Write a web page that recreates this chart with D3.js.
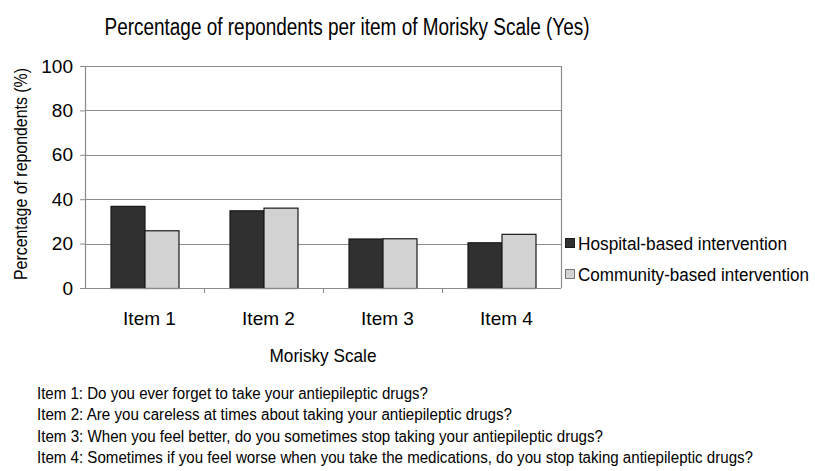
<!DOCTYPE html>
<html>
<head>
<meta charset="utf-8">
<script src="https://cdn.jsdelivr.net/npm/d3@7"></script>
<style>
  body { margin: 0; background: #fff; }
  text { font-family: "Liberation Sans", Arial, sans-serif; fill: #000; }
</style>
</head>
<body>
<div id="content"></div>
<script>
// data
const items = ["Item 1", "Item 2", "Item 3", "Item 4"]
const seriesNames = ["Hospital-based intervention", "Community-based intervention"]
const hospital = [37, 35, 22.3, 20.6]
const community = [26, 36.2, 22.4, 24.4]
const yTicks = [0, 20, 40, 60, 80, 100]
const notes = [
    "Item 1: Do you ever forget to take your antiepileptic drugs?",
    "Item 2: Are you careless at times about taking your antiepileptic drugs?",
    "Item 3: When you feel better, do you sometimes stop taking your antiepileptic drugs?",
    "Item 4: Sometimes if you feel worse when you take the medications, do you stop taking antiepileptic drugs?",
]

const colors = ["#303030", "#d2d2d2"]

const outerWidth = 815
const outerHeight = 471
const margin = {top: 66, left: 85}
const width = 561 - 85
const height = 288 - 66

const svg = d3.select("#content").append("svg")
    .attr("width", outerWidth)
    .attr("height", outerHeight)

svg.append("rect")
    .attr("width", outerWidth)
    .attr("height", outerHeight)
    .attr("fill", "#fff")

const wrapper = svg.append("g")
    .attr("transform", `translate(${margin.left}, ${margin.top})`)

// scales
const xScale = d3.scaleBand()
    .domain(items)
    .range([0, width])

const groupWidth = 68
const xInner = d3.scaleBand()
    .domain([0, 1])
    .range([0, groupWidth])

const yScale = d3.scaleLinear()
    .domain([0, 100])
    .range([height, 0])

// grid lines
wrapper.append("g")
    .selectAll("line")
    .data(yTicks.slice(1))
    .join("line")
    .attr("x1", 0)
    .attr("x2", width)
    .attr("y1", d => Math.round(yScale(d)) + 0.5)
    .attr("y2", d => Math.round(yScale(d)) + 0.5)
    .style("stroke", "#8a8a8a")
    .style("stroke-width", 1.2)

// right border of plot area
wrapper.append("line")
    .attr("x1", width + 0.5).attr("x2", width + 0.5)
    .attr("y1", 0).attr("y2", height)
    .style("stroke", "#8a8a8a")
    .style("stroke-width", 1.2)

// bars
const rows = items.map((item, i) => ({item, values: [hospital[i], community[i]]}))

const groups = wrapper.selectAll(".group")
    .data(rows)
    .join("g")
    .attr("class", "group")
    .attr("transform", d => `translate(${xScale(d.item) + (xScale.bandwidth() - groupWidth) / 2}, 0)`)

groups.selectAll("rect")
    .data(d => d.values.map((v, k) => ({k, v})))
    .join("rect")
    .attr("x", d => xInner(d.k) + 0.5)
    .attr("y", d => yScale(d.v) + 0.5)
    .attr("width", xInner.bandwidth())
    .attr("height", d => height - yScale(d.v))
    .attr("fill", d => colors[d.k])
    .style("stroke", "#1a1a1a")
    .style("stroke-width", 1.2)

// y axis
const yAxis = d3.axisLeft(yScale)
    .tickValues(yTicks)
    .tickSize(5)
    .tickPadding(7)
const yG = wrapper.append("g")
    .call(yAxis)
yG.select(".domain").style("stroke", "#8a8a8a").style("stroke-width", 1.2)
yG.selectAll(".tick line").style("stroke", "#8a8a8a")
yG.selectAll("text")
    .style("font-size", "19px")
    .style("font-family", "Liberation Sans, Arial, sans-serif")
    .attr("fill", "#000")

// x axis, ticks at the band edges
const xG = wrapper.append("g")
    .attr("transform", `translate(0, ${height})`)
xG.append("line")
    .attr("x1", 0).attr("x2", width)
    .attr("y1", 0.5).attr("y2", 0.5)
    .style("stroke", "#8a8a8a")
    .style("stroke-width", 1.2)
xG.selectAll(".edge")
    .data(items.slice(1))
    .join("line")
    .attr("class", "edge")
    .attr("x1", d => xScale(d) + 0.5)
    .attr("x2", d => xScale(d) + 0.5)
    .attr("y1", 0)
    .attr("y2", 5)
    .style("stroke", "#8a8a8a")
xG.selectAll(".label")
    .data(items)
    .join("text")
    .attr("class", "label")
    .attr("x", d => xScale(d) + xScale.bandwidth() / 2 + 5)
    .attr("y", 37)
    .attr("text-anchor", "middle")
    .style("font-size", "19px")
    .text(d => d)

// axis titles
svg.append("text")
    .attr("x", margin.left + width / 2)
    .attr("y", 362)
    .attr("text-anchor", "middle")
    .attr("textLength", 107)
    .attr("lengthAdjust", "spacingAndGlyphs")
    .style("font-size", "19px")
    .text("Morisky Scale")

svg.append("text")
    .attr("transform", `translate(27, ${margin.top + height / 2 - 3}) rotate(-90)`)
    .attr("text-anchor", "middle")
    .attr("textLength", 212)
    .attr("lengthAdjust", "spacingAndGlyphs")
    .style("font-size", "18px")
    .text("Percentage of repondents (%)")

// chart title
svg.append("text")
    .attr("x", 347)
    .attr("y", 35)
    .attr("text-anchor", "middle")
    .attr("textLength", 485)
    .attr("lengthAdjust", "spacingAndGlyphs")
    .style("font-size", "23px")
    .text("Percentage of repondents per item of Morisky Scale (Yes)")

// legend
const legendLengths = [209, 231]
const legend = svg.append("g")
    .attr("transform", "translate(565, 238)")
const legendItems = legend.selectAll("g")
    .data(seriesNames)
    .join("g")
    .attr("transform", (d, i) => `translate(0, ${i * 31})`)
legendItems.append("rect")
    .attr("x", 0.5)
    .attr("y", 0.5)
    .attr("width", 9)
    .attr("height", 9)
    .attr("fill", (d, i) => colors[i])
    .style("stroke", (d, i) => i ? "#777" : "#1a1a1a")
legendItems.append("text")
    .attr("x", 13)
    .attr("y", 12)
    .attr("textLength", (d, i) => legendLengths[i])
    .attr("lengthAdjust", "spacingAndGlyphs")
    .style("font-size", "17.5px")
    .text(d => d)

// notes under the chart
const noteLengths = [391, 475, 566, 716]
svg.append("g")
    .selectAll("text")
    .data(notes)
    .join("text")
    .attr("x", 37)
    .attr("y", (d, i) => 399 + i * 21.3)
    .attr("textLength", (d, i) => noteLengths[i])
    .attr("lengthAdjust", "spacingAndGlyphs")
    .style("font-size", "16px")
    .text(d => d)
</script>
</body>
</html>
